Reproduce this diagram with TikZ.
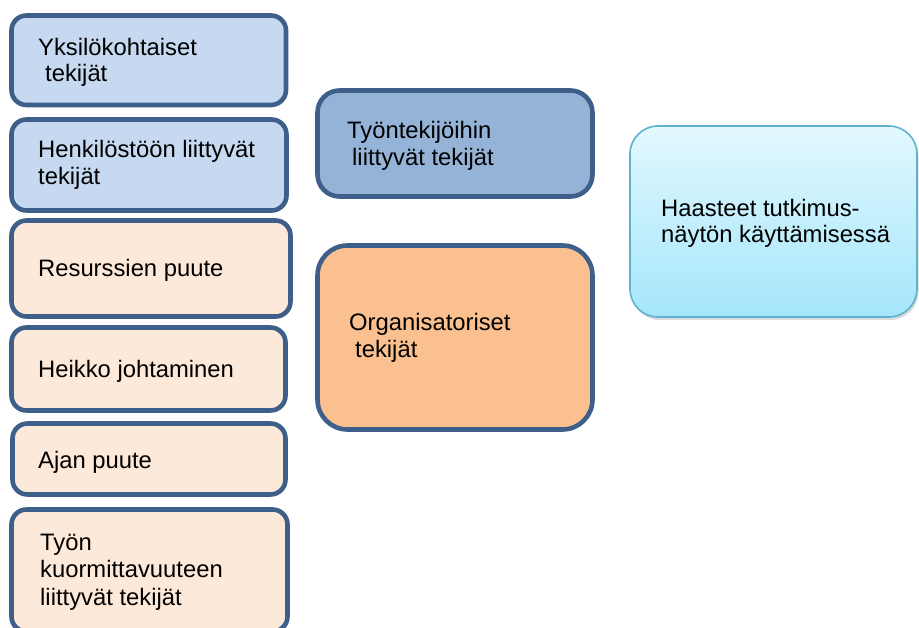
\documentclass[tikz,border=0pt]{standalone}
\usepackage{fontspec}
\setmainfont{Liberation Sans}
\usetikzlibrary{shadows}
\definecolor{edgeblue}{HTML}{3E5F8A}
\definecolor{lightblue}{HTML}{C6D9F1}
\definecolor{peach}{HTML}{FDE9D9}
\definecolor{midblue}{HTML}{95B3D7}
\definecolor{orange}{HTML}{FAC090}
\definecolor{cyanedge}{HTML}{5DB3CF}
\definecolor{cyantop}{HTML}{E2F8FE}
\definecolor{cyanbot}{HTML}{A5E6FB}
\tikzset{
  boxbase/.style={draw=edgeblue, line width=4.6pt, inner sep=0pt, outer sep=0pt},
  bluebox/.style={boxbase, fill=lightblue, rounded corners=15pt},
  peachbox/.style={boxbase, fill=peach, rounded corners=15pt},
  txt/.style={anchor=base west, inner sep=0pt, font=\fontsize{23.8}{26}\selectfont, text=black},
}
\begin{document}
\begin{tikzpicture}[x=1pt,y=-1pt]
\useasboundingbox (0,0) rectangle (919,628);
% left column
\node[bluebox, minimum width=274.5pt, minimum height=89.5pt] (b1) at (148.75,60.25) {};
\node[bluebox, minimum width=275pt, minimum height=91pt] (b2) at (149,165) {};
\node[peachbox, minimum width=279pt, minimum height=96pt] (b3) at (151,268.5) {};
\node[peachbox, minimum width=274pt, minimum height=83pt] (b4) at (148.5,369) {};
\node[peachbox, minimum width=273pt, minimum height=71pt] (b5) at (149,459) {};
\node[peachbox, minimum width=276pt, minimum height=122pt] (b6) at (149.5,570.5) {};
% middle column
\node[boxbase, fill=midblue, rounded corners=22pt, minimum width=275pt, minimum height=106pt] (m1) at (455,143.5) {};
\node[boxbase, fill=orange, rounded corners=30pt, minimum width=275pt, minimum height=184pt] (m2) at (455,337.5) {};
% right box
\node[draw=cyanedge, line width=1.6pt, rounded corners=28pt, top color=cyantop, bottom color=cyanbot,
      drop shadow={opacity=0.28, shadow xshift=1.5pt, shadow yshift=-3pt},
      minimum width=287pt, minimum height=191pt, inner sep=0pt] (r) at (773.5,221.5) {};
% texts
\node[txt] (t1a) at (38,56) {Yksilökohtaiset};
\node[txt] (t1b) at (45,82) {tekijät};
\node[txt] (t2a) at (38,158) {Henkilöstöön liittyvät};
\node[txt] (t2b) at (38,185) {tekijät};
\node[txt] (t3) at (38,277) {Resurssien puute};
\node[txt] (t4) at (38,378) {Heikko johtaminen};
\node[txt] (t5) at (38,468) {Ajan puute};
\node[txt] (t6a) at (40,550) {Työn};
\node[txt] (t6b) at (40,577) {kuormittavuuteen};
\node[txt] (t6c) at (40,605) {liittyvät tekijät};
\node[txt] (tm1a) at (347,139) {Työntekijöihin};
\node[txt] (tm1b) at (352,166) {liittyvät tekijät};
\node[txt] (tm2a) at (349,331) {Organisatoriset};
\node[txt] (tm2b) at (355,358) {tekijät};
\node[txt] (tra) at (661,217) {Haasteet tutkimus-};
\node[txt] (trb) at (661,243) {näytön käyttämisessä};
\end{tikzpicture}
\end{document}
